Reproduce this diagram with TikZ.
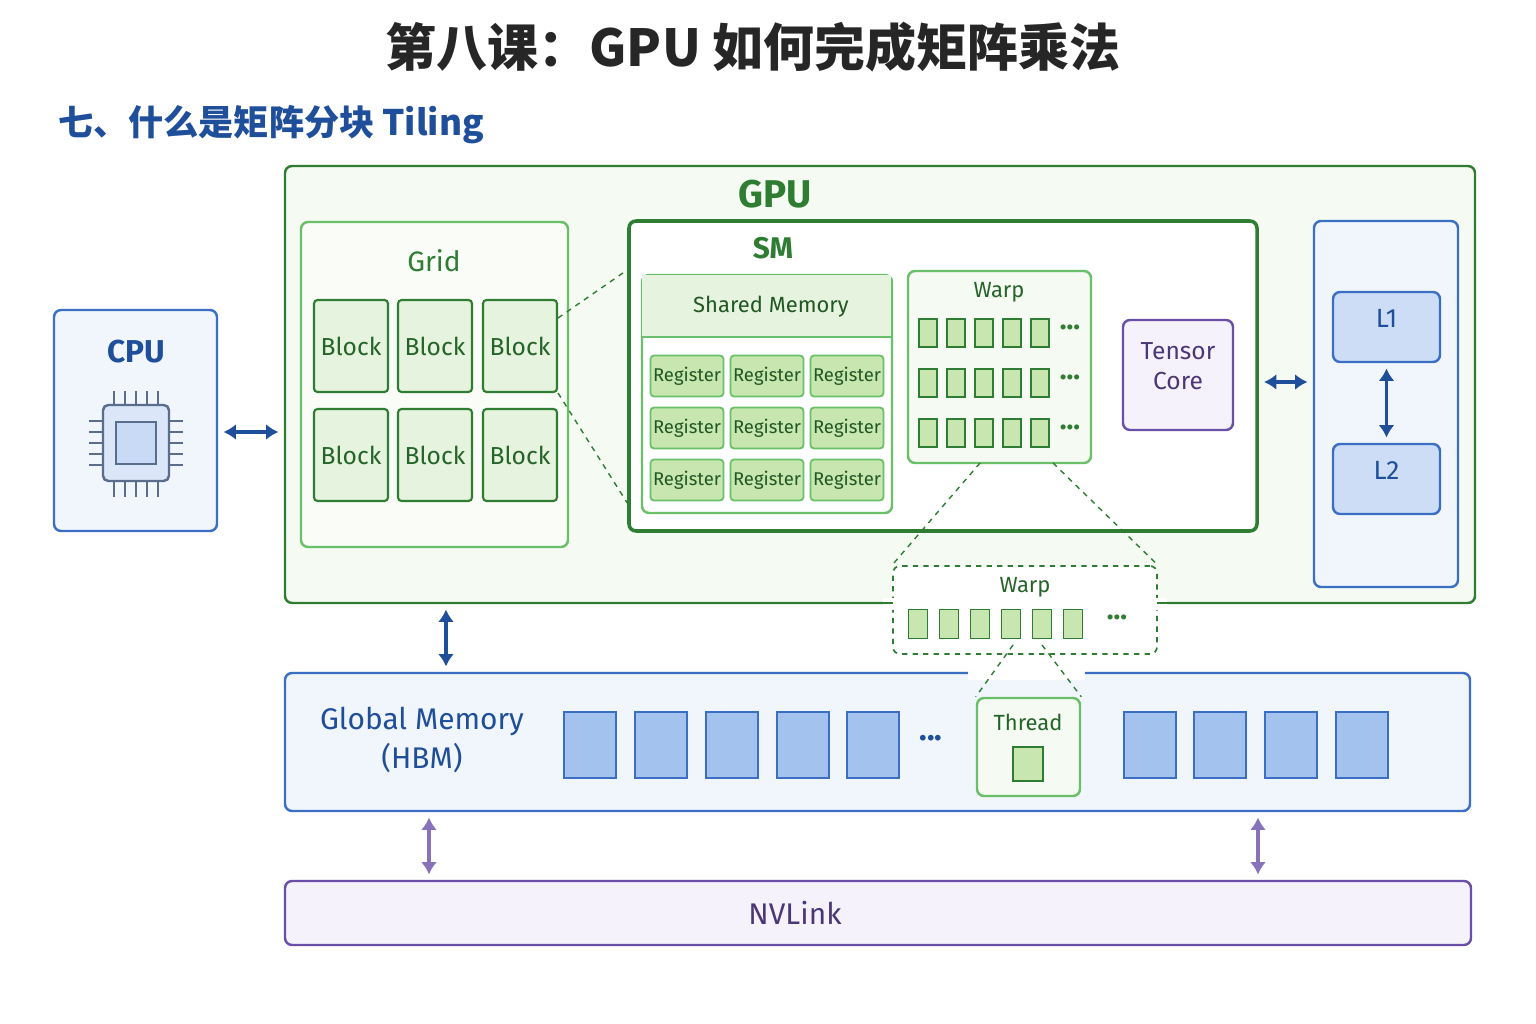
\documentclass[tikz,border=0pt]{standalone}
\usepackage{fontspec}
\setmainfont{Fira Sans}
\newfontfamily\cjk{Noto Sans CJK SC}
\usetikzlibrary{arrows.meta,positioning,fit}
\definecolor{gdark}{HTML}{2E7D32}
\definecolor{gmid}{HTML}{6ABF69}
\definecolor{gfill}{HTML}{F5FAF2}
\definecolor{gblk}{HTML}{E6F3DF}
\definecolor{greg}{HTML}{C8E6B0}
\definecolor{bdark}{HTML}{1F4E9A}
\definecolor{bmid}{HTML}{3B6FC4}
\definecolor{bfill}{HTML}{F1F6FD}
\definecolor{bblk}{HTML}{A4C2EE}
\definecolor{pdark}{HTML}{6A4FA8}
\definecolor{pfill}{HTML}{F6F2FC}
\tikzset{
  box/.style={draw,rounded corners=4pt,line width=1.4pt,inner sep=0pt},
  gbox/.style={box,draw=gdark,fill=gfill},
  blk/.style={box,draw=gdark,fill=gblk,line width=1.2pt,rounded corners=2pt},
  reg/.style={box,draw=gmid,fill=greg,line width=1pt,rounded corners=2pt},
  cell/.style={draw=gdark,fill=greg,line width=1pt,inner sep=0pt},
  mem/.style={draw=bmid,fill=bblk,line width=1.2pt,inner sep=0pt},
  zoom/.style={dashed,gdark,line width=0.8pt},
  barrow/.style={{Latex[length=7pt,width=9pt]}-{Latex[length=7pt,width=9pt]},line width=2.2pt,bdark},
  parrow/.style={{Latex[length=7pt,width=9pt]}-{Latex[length=7pt,width=9pt]},line width=2pt,pdark!80},
  dots/.style={text=gdark,font=\bfseries\fontsize{16}{16}\selectfont}
}
\begin{document}
\begin{tikzpicture}[x=0.02cm,y=-0.02cm]
\useasboundingbox[fill=white] (0,0) rectangle (1536,1024);
\node[font=\cjk\bfseries\fontsize{29}{32}\selectfont,text=black!85] (title) at (753,47) {第八课：GPU 如何完成矩阵乘法};
\node[font=\cjk\bfseries\fontsize{20}{24}\selectfont,text=bdark,anchor=west] (sub) at (52,125) {七、什么是矩阵分块 Tiling};
% GPU
\node[gbox,fit={(285,166)(1475,603)}] (gpu) {};
\node[font=\bfseries\fontsize{22}{24}\selectfont,text=gdark] (gpul) at (775,194) {GPU};
% grid
\node[gbox,draw=gmid,fill=gfill!60!white,fit={(301,222)(568,547)}] (grid) {};
\node[font=\fontsize{16}{18}\selectfont,text=gdark] (gridl) at (434,261) {Grid};
\foreach \x/\n in {351/1,435/2,520/3}{
  \node[blk,minimum width=1.48cm,minimum height=1.84cm,font=\fontsize{14}{16}\selectfont,text=gdark!80!black] (b1\n) at (\x,346) {Block};
  \node[blk,minimum width=1.48cm,minimum height=1.84cm,font=\fontsize{14}{16}\selectfont,text=gdark!80!black] (b2\n) at (\x,455) {Block};
}
% SM
\node[box,draw=gdark,fill=white,line width=2pt,fit={(629,221)(1257,531)}] (sm) {};
\node[font=\bfseries\fontsize{17}{20}\selectfont,text=gdark] (sml) at (773,248) {SM};
\node[box,draw=gmid,fill=white,fit={(642,275)(892,513)}] (shm) {};
\fill[gblk] ([shift={(0.7pt,-0.7pt)}]shm.north west) rectangle (891,337);
\draw[gmid,line width=1pt] (642,337) -- (892,337);
\node[font=\fontsize{12.5}{15}\selectfont,text=gdark!70!black] (shml) at (771,307) {Shared Memory};
\foreach \x/\n in {687/1,767/2,847/3}
  \foreach \y/\m in {376/1,428/2,480/3}
    \node[reg,minimum width=1.46cm,minimum height=0.82cm,font=\fontsize{10.5}{12}\selectfont,text=gdark!70!black] (r\m\n) at (\x,\y) {Register};
% warp in SM
\node[box,draw=gmid,fill=gfill,fit={(908,271)(1091,463)}] (warp) {};
\node[font=\fontsize{12.5}{15}\selectfont,text=gdark!80!black] (warpl) at (999,292) {Warp};
\foreach \y in {333,383,433}{
  \foreach \x in {928,956,984,1012,1040}
    \node[cell,minimum width=0.36cm,minimum height=0.56cm] at (\x,\y) {};
  \node[dots] at (1070,\y-6) {...};
}
\node[box,draw=pdark,fill=pfill,fit={(1123,320)(1233,430)},font=\fontsize{14}{17}\selectfont,text=pdark!70!black,align=center] (tc) {Tensor\\Core};
% caches
\node[box,draw=bmid,fill=bfill,fit={(1314,221)(1458,587)}] (cache) {};
\node[box,draw=bmid,fill=bblk!55!white,fit={(1333,292)(1440,362)},font=\fontsize{15}{17}\selectfont,text=bdark] (l1) {L1};
\node[box,draw=bmid,fill=bblk!55!white,fit={(1333,444)(1440,514)},font=\fontsize{15}{17}\selectfont,text=bdark] (l2) {L2};
\draw[barrow,line width=1.8pt] ([yshift=-3pt]l1.south) -- ([yshift=3pt]l2.north);
\draw[barrow] ([xshift=3pt]sm.east |- 0,382) -- ([xshift=-3pt]cache.west |- 0,382);
% CPU
\node[box,draw=bmid,fill=bfill,fit={(54,310)(217,531)}] (cpu) {};
\node[font=\bfseries\fontsize{18}{20}\selectfont,text=bdark] (cpul) at (136,352) {CPU};
\node[draw=bdark!60!black!70,fill=bblk!40!white,line width=1.4pt,rounded corners=3pt,minimum width=1.32cm,minimum height=1.52cm] (chip) at (136,443) {};
\node[draw=bdark!60!black!70,fill=bblk!60!white,line width=1.4pt,minimum width=0.8cm,minimum height=0.84cm] (core) at (136,443) {};
\foreach \i in {-2,...,2}{
  \draw[bdark!60!black!70,line width=1.2pt] (136+\i*11,406) -- ++(0,-15) (136+\i*11,482) -- ++(0,15);
  \draw[bdark!60!black!70,line width=1.2pt] (104,443+\i*11) -- ++(-15,0) (168,443+\i*11) -- ++(15,0);
}
\draw[barrow] ([xshift=3pt]cpu.east |- 0,432) -- ([xshift=-3pt]gpu.west |- 0,432);
% zoom lines grid -> SM
\draw[zoom] (b13.east |- 0,318) -- (sm.west |- 0,270);
\draw[zoom] (b13.south east) -- (sm.west |- 0,503);
% global memory
\node[box,draw=bmid,fill=bfill,fit={(285,673)(1470,811)}] (gmem) {};
\node[font=\fontsize{17}{22}\selectfont,text=bdark,align=center] (gmeml) at (422,740) {Global Memory\\(HBM)};
\foreach \x in {590,661,732,803,873,1150,1220,1291,1362}
  \node[mem,minimum width=1.04cm,minimum height=1.32cm] at (\x,745) {};
\node[text=bdark,font=\bfseries\fontsize{18}{18}\selectfont] at (931,738) {...};
\draw[barrow] ([yshift=-3pt]gpu.south -| 446,0) -- ([yshift=3pt]gmem.north -| 446,0);
% warp zoom
\fill[white] (968,666) rectangle (1085,680);
\node[draw=gdark,dashed,line width=1pt,rounded corners=4pt,fill=white,fit={(893,566)(1157,654)},inner sep=0pt] (wz) {};
\fill[white] (883,598) rectangle (1167,610);
\draw[gdark,line width=1.4pt] (883,603) -- (893,603) (1157,603) -- (1167,603);
\node[font=\fontsize{12.5}{15}\selectfont,text=gdark!80!black] (wzl) at (1025,587) {Warp};
\foreach \x in {918,949,980,1011,1042,1073}
  \node[cell,minimum width=0.38cm,minimum height=0.58cm] at (\x,624) {};
\node[dots] at (1117,617) {...};
\draw[zoom] (980,463) -- (wz.north west);
\draw[zoom] (1053,463) -- (wz.north east);
% thread
\node[box,draw=gmid,fill=gfill,fit={(977,698)(1080,796)}] (thr) {};
\node[font=\fontsize{12.5}{15}\selectfont,text=gdark!80!black] (thrl) at (1028,722) {Thread};
\node[cell,minimum width=0.6cm,minimum height=0.68cm] (tcell) at (1028,764) {};
\draw[zoom] (1013,645) -- (thr.north west);
\draw[zoom] (1042,645) -- (thr.north east);
% NVLink
\node[box,draw=pdark,fill=pfill,fit={(285,881)(1471,945)}] (nv) {};
\node[font=\fontsize{17}{20}\selectfont,text=pdark!70!black] (nvl) at (795,913) {NVLink};
\draw[parrow] ([yshift=-3pt]gmem.south -| 429,0) -- ([yshift=3pt]nv.north -| 429,0);
\draw[parrow] ([yshift=-3pt]gmem.south -| 1258,0) -- ([yshift=3pt]nv.north -| 1258,0);
\end{tikzpicture}
\end{document}
